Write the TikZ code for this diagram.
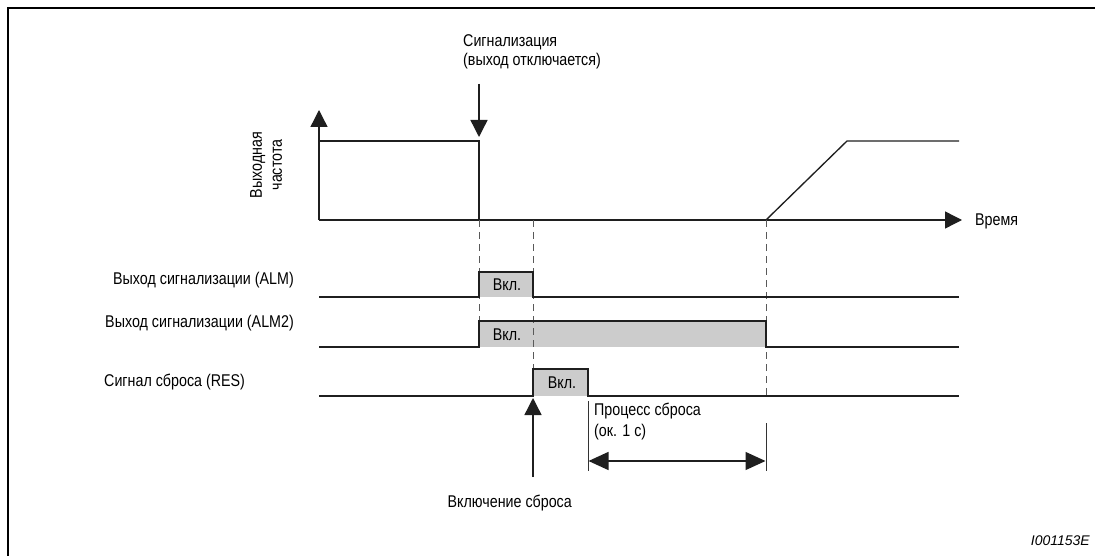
\documentclass[tikz,border=0pt]{standalone}
\usepackage{fontspec}
\setmainfont[FakeStretch=0.84]{Liberation Sans}
\newfontfamily\codefont{Liberation Sans}
\usetikzlibrary{arrows.meta}
\begin{document}
\begin{tikzpicture}[x=1pt,y=-1pt,
  sig/.style={line width=1.35pt, draw=black!88},
  onbox/.style={fill=black!20, draw=none},
  guide/.style={dash pattern=on 7pt off 5pt, line width=0.75pt, draw=black!65},
  bigarrow/.style={-{Triangle[length=17pt,width=17pt]}, line width=1.35pt, draw=black!88, fill=black!88},
  dimarrow/.style={{Triangle[length=20pt,width=18pt]}-{Triangle[length=20pt,width=18pt]}, line width=1.35pt, draw=black!88, fill=black!88},
  tick/.style={line width=0.8pt, draw=black!80},
  lbl/.style={font=\fontsize{17}{20}\selectfont, inner sep=0pt, text=black},
  code/.style={font=\codefont\fontsize{14}{17}\selectfont\itshape, inner sep=0pt, text=black}]
\useasboundingbox (0,0) rectangle (1095,556);
% frame
\coordinate (FB) at (8,557);
\coordinate (FC) at (8,8);
\coordinate (FR) at (1096,8);
\draw[line width=2pt] (FB) -- (FC) -- (FR);

% axes
\coordinate (O) at (319,220);
\coordinate (Ytop) at (319,110);
\coordinate (Xend) at (962,220);
\draw[bigarrow] (O) -- (Ytop);
\draw[bigarrow] (O) -- (Xend);
\node[lbl, anchor=west] (time) at (975,221) {Время};
\node[lbl, rotate=90, align=center] (fout) at (266,165) {Выходная\\частота};

% output frequency
\coordinate (f1) at (319,141);
\coordinate (f2) at (479,141);
\coordinate (f3) at (479,220);
\coordinate (f4) at (766,220);
\coordinate (f5) at (847,141);
\coordinate (f6) at (959,141);
\draw[sig] (f1) -- (f2) -- (f3);
\draw[sig] (f4) -- (f5) -- (f6);

% alarm arrow
\node[lbl, anchor=base west] (al1) at (463,47) {Сигнализация};
\node[lbl, anchor=base west] (al2) at (463,66) {(выход отключается)};
\coordinate (a0) at (479,84);
\coordinate (a1) at (479,137);
\draw[bigarrow] (a0) -- (a1);

% shaded on-states
\fill[onbox] (479,272) rectangle (533,297);
\fill[onbox] (479,321) rectangle (766,347);
\fill[onbox] (533,369) rectangle (588,396);

% guides
\coordinate (g1a) at (479,220); \coordinate (g1b) at (479,321);
\coordinate (g2a) at (533,220); \coordinate (g2b) at (533,369);
\coordinate (g3a) at (766,220); \coordinate (g3b) at (766,396);
\draw[guide] (g1a) -- (g1b);
\draw[guide] (g2a) -- (g2b);
\draw[guide] (g3a) -- (g3b);

% ALM
\node[lbl, anchor=base east] (lalm) at (294,284) {Выход сигнализации (ALM)};
\draw[sig] (319,297) -- (479,297) -- (479,272) -- (533,272) -- (533,297) -- (959,297);
\node[lbl, anchor=base] (on1) at (507,290) {Вкл.};

% ALM2
\node[lbl, anchor=base east] (lalm2) at (294,327) {Выход сигнализации (ALM2)};
\draw[sig] (319,347) -- (479,347) -- (479,321) -- (766,321) -- (766,347) -- (959,347);
\node[lbl, anchor=base] (on2) at (507,340) {Вкл.};

% RES
\node[lbl, anchor=base west] (lres) at (104,386) {Сигнал сброса (RES)};
\draw[sig] (319,396) -- (533,396) -- (533,369) -- (588,369) -- (588,396) -- (959,396);
\node[lbl, anchor=base] (on3) at (562,388) {Вкл.};

% reset on arrow
\coordinate (r0) at (533,477);
\coordinate (r1) at (533,398);
\draw[bigarrow] (r0) -- (r1);
\node[lbl, anchor=base east] (ron) at (572,507) {Включение сброса};

% reset process
\coordinate (t1a) at (588,401); \coordinate (t1b) at (588,471);
\coordinate (t2a) at (766,423); \coordinate (t2b) at (766,471);
\draw[tick] (t1a) -- (t1b);
\draw[tick] (t2a) -- (t2b);
\coordinate (d1) at (588.5,461);
\coordinate (d2) at (765.5,461);
\draw[dimarrow] (d1) -- (d2);
\node[lbl, anchor=base west] (pr1) at (594,415) {Процесс сброса};
\node[lbl, anchor=base west] (pr2) at (594,436) {(ок. 1 с)};

% code
\node[code, anchor=base east] (id) at (1090,545) {I001153E};
\end{tikzpicture}
\end{document}
